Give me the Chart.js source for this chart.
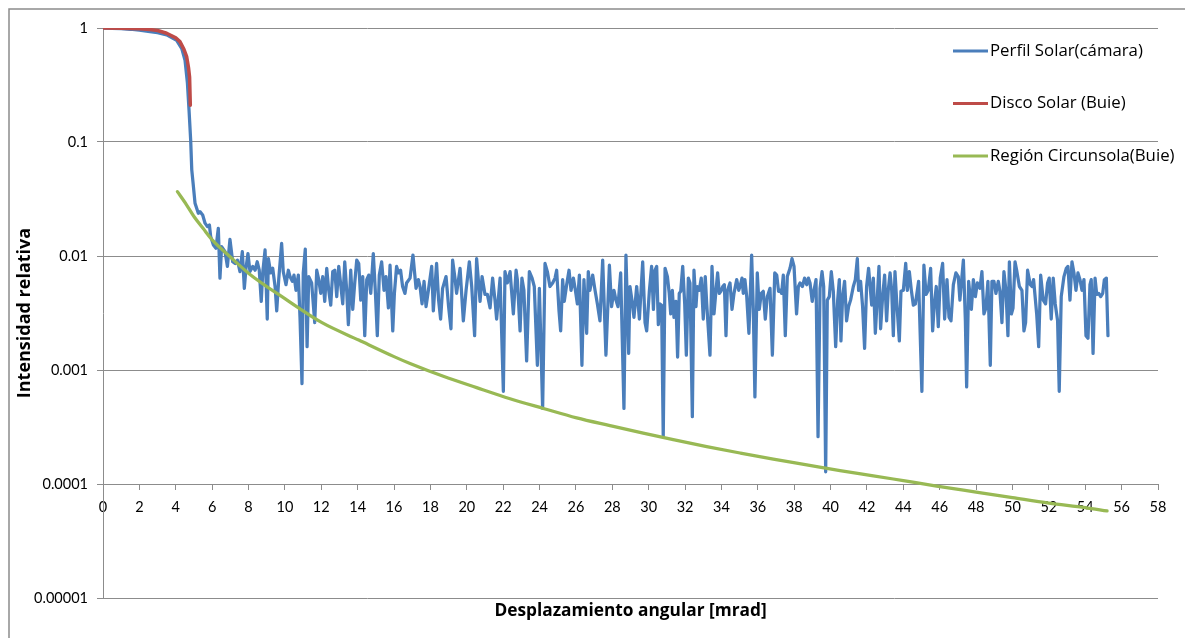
<!DOCTYPE html>
<html>
<head>
<meta charset="utf-8">
<title>Perfil solar</title>
<script src="https://cdn.jsdelivr.net/npm/chart.js@4.4.1/dist/chart.umd.min.js"></script>
<style>
  html, body { margin: 0; padding: 0; background: #ffffff; }
  #wrap { width: 1185px; height: 638px; position: relative; }
</style>
</head>
<body>
<div id="wrap"><canvas id="grafico" width="1185" height="638"></canvas></div>
<script>
// Perfil medido con la cámara: [desplazamiento angular (mrad), intensidad relativa]
const perfilSolar = [
  [0,0.995],[0.5,0.99],[1,0.985],[1.5,0.975],[2,0.96],[2.58,0.93],[3,0.91],[3.5,0.87],[4.05,0.78],
  [4.33,0.66],[4.51,0.52],[4.64,0.33],[4.73,0.19],[4.82,0.104],[4.88,0.057],[4.95,0.044],[5.06,0.029],
  [5.24,0.0237],[5.33,0.0245],[5.48,0.0229],[5.61,0.0194],[5.74,0.0181],[5.85,0.0187],[5.92,0.0148],
  [6.07,0.0125],[6.21,0.0117],[6.34,0.0175],[6.43,0.0064],[6.52,0.0121],[6.71,0.0109],[6.84,0.0081],
  [6.98,0.0140],[7.13,0.0089],[7.26,0.0086],[7.39,0.0092],[7.53,0.0073],[7.66,0.0109],[7.77,0.0052],
  [7.86,0.0078],[7.97,0.0105],[8.08,0.0073],[8.23,0.0081],[8.36,0.0075],[8.48,0.0089],[8.59,0.0075],
  [8.70,0.0040],[8.78,0.0071],[8.91,0.0113],[9.03,0.0028],[9.09,0.0095],[9.22,0.0071],[9.33,0.0078],
  [9.46,0.0054],[9.55,0.0033],[9.66,0.0062],[9.82,0.0129],[9.91,0.0073],[10.06,0.0056],[10.19,0.0075],
  [10.28,0.0066],[10.41,0.0060],[10.50,0.0068],[10.61,0.0050],[10.74,0.0068],[10.83,0.0029],[10.94,0.00076],
  [11.01,0.0071],[11.12,0.0115],[11.22,0.0016],[11.31,0.0066],[11.47,0.0058],[11.64,0.0026],[11.75,0.0075],
  [11.86,0.0062],[11.97,0.0047],[12.08,0.0066],[12.19,0.0040],[12.30,0.0078],[12.41,0.0050],[12.52,0.0037],
  [12.63,0.0073],[12.74,0.0075],[12.85,0.0044],[12.96,0.0081],[13.07,0.0056],[13.18,0.0038],[13.29,0.0089],
  [13.40,0.0049],[13.49,0.0025],[13.62,0.0075],[13.73,0.0034],[13.84,0.0058],[13.95,0.0092],[14.06,0.0086],
  [14.17,0.0041],[14.28,0.0066],[14.39,0.0020],[14.50,0.0062],[14.61,0.0068],[14.72,0.0047],[14.86,0.0105],
  [14.97,0.0050],[15.08,0.0020],[15.19,0.0068],[15.32,0.0089],[15.45,0.0050],[15.56,0.0066],[15.69,0.0035],
  [15.78,0.0083],[15.93,0.0022],[16.02,0.0047],[16.14,0.0081],[16.25,0.0071],[16.36,0.0075],[16.47,0.0054],
  [16.60,0.0047],[16.69,0.0058],[16.88,0.0064],[17.04,0.0102],[17.21,0.0052],[17.34,0.0062],[17.43,0.0054],
  [17.54,0.0038],[17.65,0.0060],[17.76,0.0036],[17.89,0.0050],[18.07,0.0081],[18.16,0.0033],[18.34,0.0086],
  [18.45,0.0041],[18.56,0.0028],[18.67,0.0052],[18.86,0.0066],[19.00,0.0036],[19.13,0.0023],[19.22,0.0092],
  [19.35,0.0064],[19.44,0.0047],[19.63,0.0078],[19.81,0.0027],[19.96,0.0050],[20.14,0.0089],[20.27,0.0054],
  [20.43,0.0020],[20.54,0.0095],[20.73,0.0040],[20.84,0.0066],[21.00,0.0046],[21.13,0.0046],[21.28,0.0035],
  [21.42,0.0064],[21.55,0.0041],[21.64,0.0028],[21.83,0.0064],[22.01,0.00065],[22.10,0.0073],[22.23,0.0058],
  [22.38,0.0073],[22.56,0.0031],[22.71,0.0075],[22.78,0.0062],[22.93,0.0022],[23.03,0.0064],[23.14,0.0050],
  [23.29,0.0012],[23.44,0.0073],[23.59,0.0064],[23.71,0.0054],[23.88,0.0011],[23.99,0.0052],[24.17,0.00046],
  [24.30,0.0086],[24.43,0.0073],[24.57,0.0054],[24.72,0.0058],[24.85,0.0064],[24.94,0.0075],[25.07,0.0033],
  [25.16,0.0022],[25.27,0.0062],[25.36,0.0040],[25.49,0.0056],[25.62,0.0075],[25.73,0.0050],[25.86,0.0064],
  [25.97,0.0050],[26.08,0.0038],[26.19,0.0068],[26.33,0.0011],[26.44,0.0062],[26.59,0.0021],[26.68,0.0073],
  [26.77,0.0050],[26.92,0.0068],[27.05,0.0050],[27.18,0.0038],[27.32,0.0027],[27.47,0.0092],[27.65,0.00135],
  [27.84,0.0083],[27.96,0.0036],[28.09,0.0050],[28.20,0.0041],[28.31,0.0036],[28.46,0.0071],[28.64,0.00046],
  [28.75,0.0102],[28.90,0.0014],[28.97,0.0054],[29.08,0.0041],[29.19,0.0029],[29.34,0.0054],[29.49,0.0028],
  [29.67,0.0089],[29.80,0.0026],[29.89,0.0022],[30.04,0.0050],[30.16,0.0081],[30.26,0.0034],[30.35,0.0075],
  [30.44,0.0081],[30.53,0.0025],[30.62,0.0038],[30.71,0.0037],[30.80,0.00026],[30.90,0.0078],[31.03,0.0066],
  [31.13,0.0047],[31.21,0.0031],[31.30,0.0050],[31.39,0.0029],[31.50,0.0040],[31.59,0.0013],[31.68,0.0047],
  [31.76,0.0049],[31.87,0.0081],[31.98,0.0038],[32.07,0.00135],[32.18,0.0064],[32.27,0.0058],[32.40,0.00039],
  [32.49,0.0075],[32.60,0.0036],[32.67,0.0054],[32.78,0.0050],[32.89,0.0064],[33.00,0.0028],[33.11,0.0066],
  [33.19,0.0038],[33.37,0.00135],[33.48,0.0081],[33.59,0.0031],[33.70,0.0050],[33.79,0.0071],[33.88,0.0047],
  [33.97,0.0049],[34.07,0.0054],[34.16,0.0056],[34.25,0.0020],[34.32,0.0049],[34.47,0.0058],[34.58,0.0034],
  [34.69,0.0047],[34.84,0.0062],[34.95,0.0050],[35.02,0.0054],[35.13,0.0064],[35.20,0.0047],[35.29,0.0062],
  [35.39,0.0044],[35.51,0.0021],[35.66,0.0102],[35.75,0.0035],[35.84,0.00058],[35.97,0.0071],[36.08,0.0034],
  [36.19,0.0047],[36.30,0.0049],[36.41,0.0028],[36.52,0.0044],[36.67,0.0052],[36.80,0.00135],[36.93,0.0071],
  [37.04,0.0068],[37.14,0.0049],[37.22,0.0050],[37.31,0.0047],[37.40,0.0068],[37.51,0.0020],[37.62,0.0066],
  [37.77,0.0078],[37.88,0.0095],[37.99,0.0081],[38.13,0.0031],[38.23,0.0054],[38.32,0.0058],[38.45,0.0054],
  [38.57,0.0064],[38.69,0.0056],[38.78,0.0064],[38.87,0.0058],[38.99,0.0040],[39.09,0.0050],[39.20,0.0062],
  [39.31,0.00026],[39.42,0.0052],[39.53,0.0073],[39.62,0.0054],[39.73,0.000128],[39.82,0.0041],[39.93,0.0044],
  [40.04,0.0073],[40.15,0.0049],[40.28,0.0016],[40.39,0.0041],[40.48,0.0062],[40.57,0.0018],[40.66,0.0044],
  [40.77,0.0060],[40.88,0.0027],[40.99,0.0036],[41.10,0.0041],[41.25,0.0054],[41.36,0.0062],[41.47,0.0095],
  [41.54,0.0050],[41.65,0.0060],[41.76,0.0036],[41.87,0.00155],[41.98,0.0054],[42.09,0.0078],[42.26,0.0037],
  [42.35,0.0064],[42.46,0.0021],[42.57,0.0044],[42.66,0.0081],[42.75,0.0023],[42.86,0.0044],[42.97,0.0068],
  [43.08,0.0027],[43.17,0.0050],[43.27,0.0071],[43.36,0.0050],[43.45,0.0020],[43.54,0.0073],[43.63,0.0041],
  [43.78,0.0018],[43.87,0.0049],[44.00,0.0050],[44.13,0.0086],[44.22,0.0050],[44.33,0.0073],[44.44,0.0050],
  [44.55,0.0037],[44.66,0.0038],[44.77,0.0050],[44.84,0.0060],[45.02,0.00065],[45.13,0.0083],[45.25,0.0046],
  [45.37,0.0050],[45.50,0.0078],[45.61,0.0022],[45.70,0.0037],[45.81,0.0054],[45.92,0.0024],[46.03,0.0064],
  [46.16,0.0086],[46.27,0.0028],[46.40,0.0062],[46.51,0.0029],[46.62,0.0027],[46.75,0.0056],[46.89,0.0071],
  [47.02,0.0066],[47.11,0.0041],[47.30,0.0092],[47.41,0.0027],[47.48,0.00071],[47.59,0.0060],[47.74,0.0034],
  [47.85,0.0062],[47.96,0.0044],[48.07,0.0058],[48.21,0.0052],[48.32,0.0073],[48.43,0.0031],[48.54,0.0035],
  [48.65,0.0060],[48.78,0.0011],[48.87,0.0060],[48.98,0.0060],[49.09,0.0047],[49.22,0.0060],[49.31,0.0049],
  [49.42,0.0026],[49.53,0.0073],[49.64,0.0050],[49.75,0.0020],[49.83,0.0089],[49.94,0.0031],[50.03,0.0035],
  [50.14,0.0089],[50.23,0.0075],[50.38,0.0054],[50.52,0.0050],[50.63,0.0022],[50.72,0.0026],[50.83,0.0075],
  [50.98,0.0056],[51.07,0.0054],[51.16,0.0062],[51.33,0.0031],[51.44,0.0016],[51.55,0.0068],[51.69,0.0041],
  [51.82,0.0038],[51.93,0.0058],[52.02,0.0064],[52.13,0.0028],[52.24,0.0064],[52.35,0.0038],[52.48,0.0027],
  [52.57,0.00065],[52.68,0.0044],[52.83,0.0066],[52.96,0.0078],[53.05,0.0081],[53.16,0.0041],[53.27,0.0089],
  [53.38,0.0071],[53.49,0.0050],[53.60,0.0071],[53.71,0.0062],[53.82,0.0050],[53.93,0.0062],[54.04,0.0020],
  [54.15,0.0019],[54.26,0.0056],[54.33,0.0062],[54.43,0.0014],[54.54,0.0064],[54.63,0.0046],[54.74,0.0047],
  [54.85,0.0044],[54.96,0.0047],[55.05,0.0062],[55.16,0.0064],[55.25,0.0020]
];

// Modelo de Buie, disco solar
const discoSolar = [
  [0,1.0],[1,0.995],[2,0.985],[2.58,0.97],[3,0.95],[3.5,0.9],[4.0,0.82],[4.23,0.76],
  [4.45,0.65],[4.6,0.56],[4.7,0.45],[4.76,0.37],[4.8,0.21]
];

// Modelo de Buie, región circunsolar
const regionCircunsolar = [
  [4.09,0.0367],[4.6,0.028],[5.0,0.0222],[5.51,0.0174],[6.03,0.0137],[7.0,0.0098],[8.03,0.0070],
  [10.02,0.0042],[12.04,0.0026],[14.06,0.00183],[16.0,0.00131],[16.88,0.00114],[18.71,0.00088],
  [20.54,0.00070],[22.38,0.00056],[24.21,0.00046],[26.04,0.00038],[27.87,0.000325],[29.70,0.000279],
  [31.35,0.000245],[33.19,0.000213],[35.02,0.000187],[36.85,0.000165],[38.69,0.000147],[40.52,0.000131],
  [42.35,0.000118],[44.0,0.000107],[45.83,0.000096],[48,0.000085],[50,0.000076],[52,0.000068],
  [54,0.000062],[55.2,0.000058]
];

const serieNombres = ['Perfil Solar(cámara)', 'Disco Solar (Buie)', 'Región Circunsola(Buie)'];
const serieColores = ['#4A7EBB', '#BE4B48', '#98B954'];

const yTickValues = [0.00001, 0.0001, 0.001, 0.01, 0.1, 1];
const yTickLabels = ['0.00001', '0.0001', '0.001', '0.01', '0.1', '1'];
const xTickValues = [0,2,4,6,8,10,12,14,16,18,20,22,24,26,28,30,32,34,36,38,40,42,44,46,48,50,52,54,56,58];

const FUENTE_NUM = 'Lato, "Open Sans", sans-serif';
const FUENTE_TXT = '"Open Sans", Lato, sans-serif';
const GRIS = '#8c8c8c';

const aPuntos = serie => serie.map(([x, y]) => ({ x, y }));

// Marco exterior del gráfico
const marco = {
  id: 'marco',
  beforeDraw(chart) {
    const ctx = chart.ctx;
    ctx.save();
    ctx.fillStyle = '#ffffff';
    ctx.fillRect(0, 0, chart.width, chart.height);
    ctx.strokeStyle = GRIS;
    ctx.lineWidth = 1.5;
    ctx.beginPath();
    ctx.moveTo(9, chart.height);
    ctx.lineTo(9, 9);
    ctx.lineTo(chart.width, 9);
    ctx.stroke();
    ctx.restore();
  }
};

// Título del eje horizontal
const tituloX = {
  id: 'tituloX',
  afterDraw(chart) {
    const { ctx, chartArea } = chart;
    ctx.save();
    ctx.font = 'bold 17.3px ' + FUENTE_TXT;
    ctx.fillStyle = '#000000';
    ctx.textAlign = 'center';
    ctx.textBaseline = 'middle';
    ctx.fillText('Desplazamiento angular [mrad]', (chartArea.left + chartArea.right) / 2, 611);
    ctx.restore();
  }
};

// Leyenda a la derecha, sobre el área de trazado
const leyenda = {
  id: 'leyenda',
  afterDraw(chart) {
    const ctx = chart.ctx;
    ctx.save();
    ctx.font = '16.8px ' + FUENTE_TXT;
    ctx.textBaseline = 'middle';
    ctx.textAlign = 'left';
    chart.data.datasets.forEach((ds, i) => {
      const y = 51 + i * 52.5;
      ctx.strokeStyle = ds.borderColor;
      ctx.lineWidth = 3;
      ctx.beginPath();
      ctx.moveTo(953, y);
      ctx.lineTo(988, y);
      ctx.stroke();
      ctx.fillStyle = '#000000';
      ctx.fillText(ds.label, 990, y);
    });
    ctx.restore();
  }
};

new Chart(document.getElementById('grafico'), {
  type: 'line',
  data: {
    datasets: [
      { label: serieNombres[0], data: aPuntos(perfilSolar), borderColor: serieColores[0], order: 3 },
      { label: serieNombres[1], data: aPuntos(discoSolar), borderColor: serieColores[1], order: 2, borderWidth: 3.5 },
      { label: serieNombres[2], data: aPuntos(regionCircunsolar), borderColor: serieColores[2], order: 1,
        cubicInterpolationMode: 'monotone' }
    ]
  },
  options: {
    responsive: false,
    animation: false,
    devicePixelRatio: 1,
    layout: { padding: { left: 12, top: 28, right: 27, bottom: 40 } },
    elements: {
      point: { radius: 0 },
      line: { borderWidth: 3.25, tension: 0, borderJoinStyle: 'round', borderCapStyle: 'round' }
    },
    plugins: { legend: { display: false }, tooltip: { enabled: false } },
    scales: {
      x: {
        type: 'linear',
        min: 0, max: 58,
        position: { y: 0.0001 },
        afterBuildTicks: s => { s.ticks = xTickValues.map(v => ({ value: v })); },
        afterFit: s => { s.height = 0; },
        ticks: { font: { family: FUENTE_NUM, size: 14.5 }, color: '#000000', padding: 10, maxRotation: 0, autoSkip: false },
        grid: { drawOnChartArea: false, drawTicks: true, tickLength: 5, color: GRIS },
        border: { display: true, color: GRIS }
      },
      y: {
        type: 'logarithmic',
        min: 0.00001, max: 1,
        afterBuildTicks: s => { s.ticks = yTickValues.map(v => ({ value: v })); },
        afterFit: s => { s.width = 91; },
        ticks: {
          callback: v => yTickLabels[yTickValues.indexOf(v)],
          font: { family: FUENTE_NUM, size: 14.5 }, color: '#000000', padding: 9, autoSkip: false
        },
        grid: { color: GRIS, lineWidth: 1, tickLength: 6, drawTicks: true },
        border: { display: true, color: GRIS },
        title: {
          display: true, text: 'Intensidad relativa', color: '#000000',
          font: { family: FUENTE_TXT, size: 18, weight: 'bold' }, padding: { top: 2, bottom: 0 }
        }
      }
    }
  },
  plugins: [marco, tituloX, leyenda]
});
</script>
</body>
</html>
